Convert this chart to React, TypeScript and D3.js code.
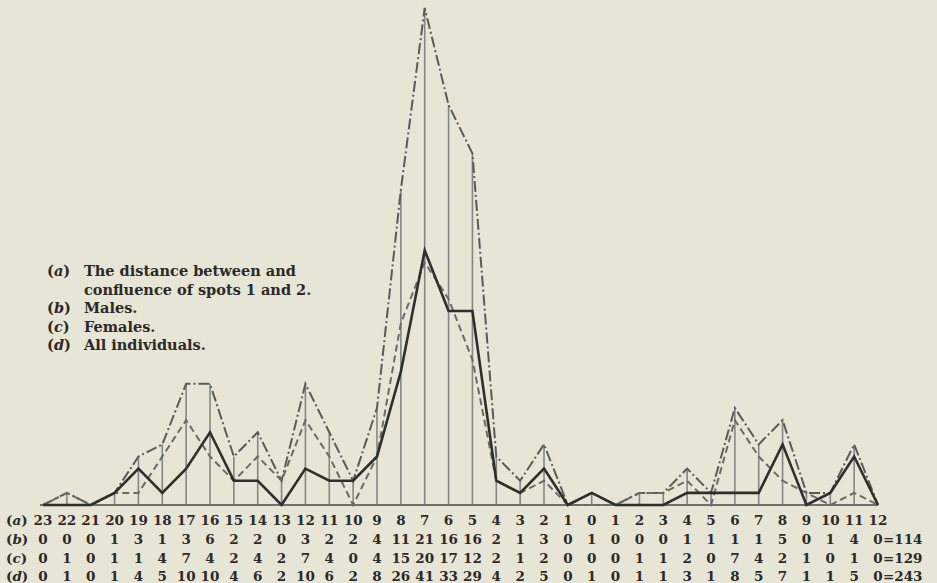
import React from 'react';
import * as d3 from 'd3';

const width = 937;
const height = 583;

// distance classes (row a)
const classes = ['23', '22', '21', '20', '19', '18', '17', '16', '15', '14', '13', '12', '11', '10', '9', '8', '7', '6', '5', '4', '3', '2', '1', '0', '1', '2', '3', '4', '5', '6', '7', '8', '9', '10', '11', '12'];
const males = [0, 0, 0, 1, 3, 1, 3, 6, 2, 2, 0, 3, 2, 2, 4, 11, 21, 16, 16, 2, 1, 3, 0, 1, 0, 0, 0, 1, 1, 1, 1, 5, 0, 1, 4, 0];
const females = [0, 1, 0, 1, 1, 4, 7, 4, 2, 4, 2, 7, 4, 0, 4, 15, 20, 17, 12, 2, 1, 2, 0, 0, 0, 1, 1, 2, 0, 7, 4, 2, 1, 0, 1, 0];
const all = [0, 1, 0, 1, 4, 5, 10, 10, 4, 6, 2, 10, 6, 2, 8, 26, 41, 33, 29, 4, 2, 5, 0, 1, 0, 1, 1, 3, 1, 8, 5, 7, 1, 1, 5, 0];
const totals = [114, 129, 243];

const legendLines = [
    { key: '(a)', text: 'The distance between and' },
    { key: '', text: 'confluence of spots 1 and 2.' },
    { key: '(b)', text: 'Males.' },
    { key: '(c)', text: 'Females.' },
    { key: '(d)', text: 'All individuals.' },
];

const font = '"DejaVu Serif", serif';
const ink = '#2b2a28';

const App = () => {
    const x = d3.scaleLinear().domain([0, classes.length - 1]).range([43, 878]);
    const y = d3.scaleLinear().domain([0, 41]).range([505, 8]);

    const line = d3.line<number>()
        .x((_, i) => x(i))
        .y(d => y(d));

    const rows = [
        { label: 'a', values: classes, total: null },
        { label: 'b', values: males.map(String), total: totals[0] },
        { label: 'c', values: females.map(String), total: totals[1] },
        { label: 'd', values: all.map(String), total: totals[2] },
    ];
    const rowY = [525, 544, 563, 581];

    return (
        <svg width={width} height={height} style={{ position: 'absolute', left: 0, top: 0 }}>
            <rect width={width} height={height} fill="#e7e5d5" />

            {/* verticals up to the total count */}
            {all.map((v, i) => v > 0 ? (
                <line key={'v' + i} x1={x(i)} x2={x(i)} y1={y(0)} y2={y(v)}
                    stroke="#858585" strokeWidth={1.6} />
            ) : null)}

            <line x1={x(0) - 3} x2={x(classes.length - 1)} y1={y(0)} y2={y(0)} stroke="#6f6f6f" strokeWidth={2} />

            <path d={line(all) || ''} fill="none" stroke="#5a5a5a" strokeWidth={2}
                strokeDasharray="11,3,2,3" />
            <path d={line(females) || ''} fill="none" stroke="#6a6a6a" strokeWidth={2}
                strokeDasharray="7,4" />
            <path d={line(males) || ''} fill="none" stroke="#2e2e2e" strokeWidth={2.6}
                strokeLinejoin="miter" />

            {/* legend */}
            <g fontFamily={font} fontWeight="bold" fontSize={14.5} fill={ink}>
                {legendLines.map((l, i) => (
                    <g key={'l' + i}>
                        {l.key && (
                            <text x={47} y={276 + i * 18.5}>
                                ({<tspan fontStyle="italic">{l.key[1]}</tspan>})
                            </text>
                        )}
                        <text x={84} y={276 + i * 18.5}>{l.text}</text>
                    </g>
                ))}
            </g>

            {/* table */}
            <g fontFamily={font} fontWeight="bold" fontSize={13.5} fill={ink}>
                {rows.map((r, ri) => (
                    <g key={'r' + ri}>
                        <text x={6} y={rowY[ri]}>
                            (<tspan fontStyle="italic">{r.label}</tspan>)
                        </text>
                        {r.values.map((v, i) => (
                            <text key={i} x={x(i)} y={rowY[ri]} textAnchor="middle">{v}</text>
                        ))}
                        {r.total !== null && (
                            <text x={x(classes.length - 1) + 5} y={rowY[ri]}>={r.total}</text>
                        )}
                    </g>
                ))}
            </g>
        </svg>
    );
};

export default App;
